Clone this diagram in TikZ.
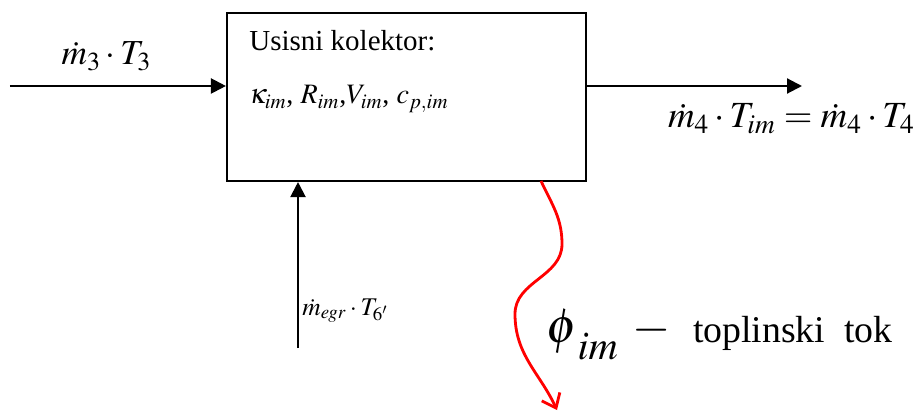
\documentclass[tikz,border=0pt]{standalone}
\usepackage{mathptmx}
\usepackage[no-math]{fontspec}
\setmainfont{Liberation Serif}
\usetikzlibrary{arrows.meta,positioning}

\begin{document}
\begin{tikzpicture}[
  flow/.style={line width=1.2pt,-{Triangle[length=0.3cm,width=0.3cm]}},
  heat/.style={red,line width=1.6pt,-{Straight Barb[length=0.25cm,width=0.4cm]}},
  lbl/.style={inner sep=0pt,font=\fontsize{20}{24}\selectfont},
  txt/.style={inner sep=0pt,font=\fontsize{16.5}{19}\selectfont}]
  \useasboundingbox (0,0) rectangle (18.3,8.28);
  \node[draw,line width=1.2pt,minimum width=7.18cm,minimum height=3.36cm,inner sep=0pt] (kol) at (8.13,6.34) {};
  \node[txt,anchor=base west] (naziv) at (4.98,7.26) {Usisni kolektor:};
  \node[txt,anchor=base west,font=\fontsize{16}{19}\selectfont] (param) at (4.98,6.2) {$\kappa_{im}$, $R_{im}$,$V_{im}$, $c_{p,im}$};
  \coordinate (in3) at (0.2,6.56);
  \coordinate (out4) at (16.04,6.56);
  \coordinate (egr) at (5.96,1.32);
  \draw[flow] (in3) -- (in3 -| kol.west);
  \draw[flow] (out4 -| kol.east) -- (out4);
  \draw[flow] (egr) -- (egr |- kol.south);
  \node[lbl,anchor=base] (m3) at (2.13,6.98) {$\dot m_3\cdot T_3$};
  \node[lbl,anchor=base east,font=\fontsize{21}{25}\selectfont] (m4) at (18.3,5.72) {$\dot m_4\cdot T_{im}=\dot m_4\cdot T_4$};
  \node[txt,anchor=base west,font=\fontsize{14.5}{17}\selectfont] (megr) at (6.04,1.98) {$\dot m_{egr}\cdot T_{6'}$};
  % toplinski tok
  \coordinate (q0) at (10.82,4.66);
  \coordinate (q1) at (11.24,3.4);
  \coordinate (q2) at (10.3,2.0);
  \coordinate (q3) at (11.14,0.08);
  \draw[heat] (q0) to[out=-65,in=90] (q1) to[out=-90,in=90] (q2) to[out=-90,in=115] (q3);
  \node[inner sep=0pt,anchor=base west] (phi) at (10.92,1.44)
    {\fontsize{28}{33}\selectfont$\phi\lower10pt\hbox{\fontsize{23}{27}\selectfont$\mathit{im}$}$\hspace{0.3em}$-$\hspace{0.45em}{\fontsize{21.5}{25}\selectfont toplinski~~tok}};
\end{tikzpicture}
\end{document}
